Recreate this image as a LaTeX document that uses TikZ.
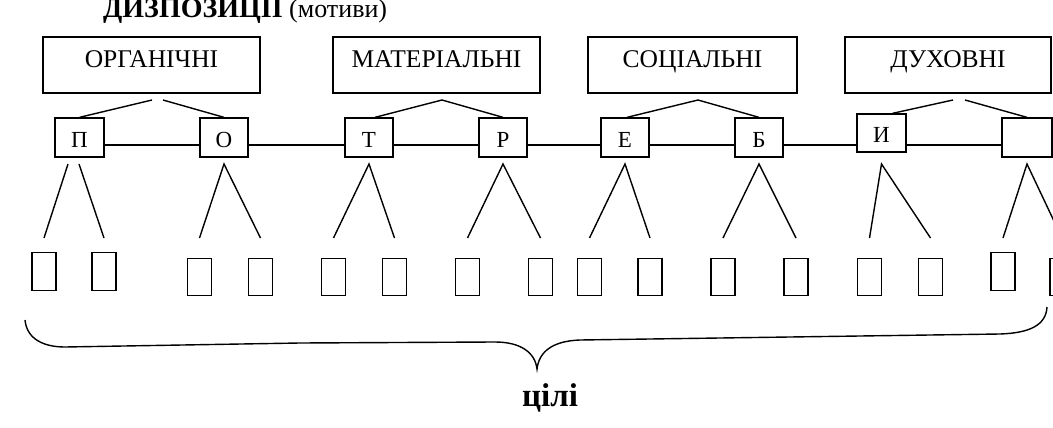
\documentclass[tikz,border=0pt]{standalone}
\usepackage{fontspec}
\setmainfont{Liberation Serif}
\usetikzlibrary{calc}
\begin{document}
\begin{tikzpicture}[x=1pt,y=-1pt,
  ln/.style={line width=1.4pt},
  topbox/.style={draw,line width=1.3pt,minimum height=56pt,inner sep=0pt,
    font=\fontsize{25.5}{27}\selectfont,text height=15pt,text depth=9pt},
  midbox/.style={draw,line width=1.3pt,minimum width=48pt,minimum height=39pt,inner sep=0pt,
    font=\fontsize{23}{25}\selectfont,text height=23pt,text depth=4pt},
  leaf/.style={draw,line width=1.3pt,minimum width=24pt,minimum height=37.5pt,inner sep=0pt}]
\useasboundingbox (0,0) rectangle (1053,428);

% title
\node[anchor=base west,inner sep=0pt] (title) at (103,18)
  {\fontsize{28}{30}\selectfont\bfseries ДИЗПОЗИЦІЇ\fontsize{26}{30}\selectfont\mdseries\ (мотиви)};

% top boxes
\node[topbox,minimum width=217pt] (t1) at (151.5,65) {ОРГАНІЧНІ};
\node[topbox,minimum width=207pt] (t2) at (436.5,65) {МАТЕРІАЛЬНІ};
\node[topbox,minimum width=209pt] (t3) at (692.5,65) {СОЦІАЛЬНІ};
\node[topbox,minimum width=206pt] (t4) at (948,65) {ДУХОВНІ};

% middle boxes
\node[midbox,minimum width=49pt] (s1) at (79.5,137.5) {П};
\node[midbox] (s2) at (224,137.5) {О};
\node[midbox] (s3) at (369,137.5) {Т};
\node[midbox] (s4) at (503,137.5) {Р};
\node[midbox] (s5) at (625,137.5) {Е};
\node[midbox] (s6) at (759,137.5) {Б};
\node[midbox,minimum width=49pt,minimum height=38pt] (s7) at (881.5,133) {И};
\node[midbox,minimum width=50pt] (s8) at (1027,137.5) {};

% leaves
\node[leaf] (b1) at (44,271.5) {};
\node[leaf] (b2) at (104,271.5) {};
\node[leaf] (b3) at (199.5,277) {};
\node[leaf] (b4) at (260.5,277) {};
\node[leaf] (b5) at (333.5,277) {};
\node[leaf] (b6) at (394.5,277) {};
\node[leaf] (b7) at (467.5,277) {};
\node[leaf] (b8) at (540.5,277) {};
\node[leaf] (b9) at (589.5,277) {};
\node[leaf] (b10) at (650,277) {};
\node[leaf] (b11) at (723,277) {};
\node[leaf] (b12) at (796,277) {};
\node[leaf] (b13) at (869.5,277) {};
\node[leaf] (b14) at (930.5,277) {};
\node[leaf] (b15) at (1003,271.5) {};
\node[leaf] (b16) at (1062,277) {};

% horizontal chain
\coordinate (hl) at (0,145);
\foreach \a/\b in {s1/s2,s2/s3,s3/s4,s4/s5,s5/s6,s6/s7,s7/s8}
  \draw[ln] (\a.east |- hl) -- (\b.west |- hl);

% links from top boxes
\coordinate (a1l) at (152,100);
\coordinate (a1r) at (163,100);
\coordinate (a2) at (442,100);
\coordinate (a3) at (698,100);
\coordinate (a4l) at (953,100);
\coordinate (a4r) at (965,100);
\draw[ln] (a1l) -- (s1.north);
\draw[ln] (a1r) -- (s2.north);
\draw[ln] ($(s3.north)+(6,0)$) -- (a2) -- (s4.north);
\draw[ln] ($(s5.north)+(2,0)$) -- (a3) -- (s6.north);
\draw[ln] (a4l) -- ($(s7.north)+(11,0)$);
\draw[ln] (a4r) -- (s8.north);

% V links to leaves
\coordinate (vl) at (0,164);
\coordinate (el) at (0,238);
\coordinate (p1) at (68,164);
\coordinate (p2) at (79,164);
\draw[ln] (p1) -- (b1.north |- el);
\draw[ln] (p2) -- (b2.north |- el);
\draw[ln] (b3.north |- el) -- (s2.south |- vl) -- (b4.north |- el);
\draw[ln] (b5.north |- el) -- (s3.south |- vl) -- (b6.north |- el);
\draw[ln] (b7.north |- el) -- (s4.south |- vl) -- (b8.north |- el);
\draw[ln] (b9.north |- el) -- (s5.south |- vl) -- (b10.north |- el);
\draw[ln] (b11.north |- el) -- (s6.south |- vl) -- (b12.north |- el);
\draw[ln] (b13.north |- el) -- (s7.south |- vl) -- (b14.north |- el);
\draw[ln] (b15.north |- el) -- (s8.south |- vl) -- (b16.north |- el);

% brace
\coordinate (br) at (537,369);
\draw[ln] (25,320) .. controls (27,340) and (45,347) .. (65,347) -- (300,343) -- (495,342)
  .. controls (520,342) and (535,352) .. (br)
  .. controls (539,352) and (552,341) .. (580,340) -- (1000,334)
  .. controls (1030,333) and (1046,325) .. (1047,307);

\node[anchor=base,inner sep=0pt,font=\fontsize{33}{36}\selectfont\bfseries] (goal) at (550,406) {цілі};
\end{tikzpicture}
\end{document}
